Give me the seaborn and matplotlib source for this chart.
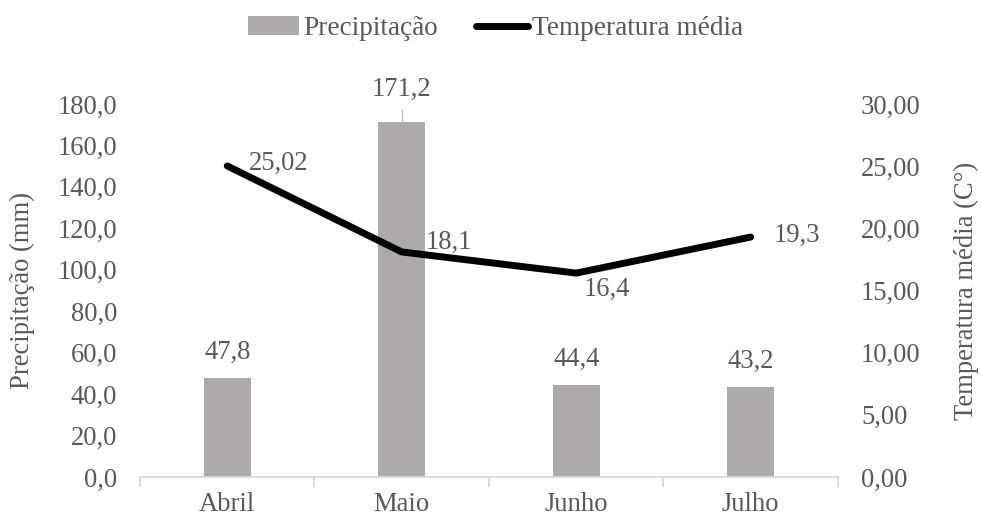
import matplotlib
matplotlib.use("Agg")
import matplotlib.pyplot as plt
from matplotlib.lines import Line2D
from matplotlib.patches import Patch
from matplotlib.ticker import FixedLocator, FuncFormatter
import seaborn as sns
import pandas as pd

months = ["Abril", "Maio", "Junho", "Julho"]
precip = [47.8, 171.2, 44.4, 43.2]
temps = [25.02, 18.1, 16.4, 19.3]
temp_labels = ["25,02", "18,1", "16,4", "19,3"]

sns.set_theme(style="white")
plt.rcParams["font.family"] = ["Liberation Serif", "DejaVu Serif"]

TEXT = "#595959"
BAR = "#AEAAAA"
AXIS = "#D9D9D9"
FS = 19.2

df = pd.DataFrame({"mes": months, "prec": precip, "temp": temps})

fig = plt.figure(figsize=(9.81, 5.17), dpi=100)
ax = fig.add_axes([0.1427, 0.0774, 0.7115, 0.7214])

sns.barplot(data=df, x="mes", y="prec", color=BAR, width=0.27,
            saturation=1, ax=ax, edgecolor="none")
ax.set_xlim(-0.5, 3.5)
ax.set_ylim(0, 180)
ax.set_yticks(range(0, 181, 20))
ax.yaxis.set_major_formatter(FuncFormatter(lambda v, p: f"{v:.1f}".replace(".", ",")))
ax.set_xlabel("")
ax.set_ylabel("Precipitação (mm)", fontsize=FS, color=TEXT, va="center")
ax.yaxis.set_label_coords(-0.168, 0.5)

for s in ["top", "left", "right"]:
    ax.spines[s].set_visible(False)
ax.spines["bottom"].set_color(AXIS)
ax.spines["bottom"].set_linewidth(1.3)

ax.tick_params(axis="y", length=0, labelsize=FS, labelcolor=TEXT, pad=16.5)
ax.tick_params(axis="x", which="major", length=0, labelsize=FS, labelcolor=TEXT, pad=11)
ax.xaxis.set_minor_locator(FixedLocator([-0.5, 0.5, 1.5, 2.5, 3.5]))
ax.tick_params(axis="x", which="minor", length=7, width=1.3, color=AXIS, bottom=True)

# bar value labels
for i, v in enumerate(precip):
    txt = f"{v:.1f}".replace(".", ",")
    if v > 150:
        ax.plot([i, i], [v, v + 6], color="#BFBFBF", lw=1)
        ax.text(i, v + 10, txt, ha="center", va="bottom", fontsize=FS, color=TEXT)
    else:
        ax.text(i, v + 6.5, txt, ha="center", va="bottom", fontsize=FS, color=TEXT)

ax2 = ax.twinx()
sns.lineplot(data=df, x="mes", y="temp", color="black", lw=5, ax=ax2,
             sort=False, solid_capstyle="round", solid_joinstyle="round")
ax2.set_ylim(0, 30)
ax2.set_yticks(range(0, 31, 5))
ax2.yaxis.set_major_formatter(FuncFormatter(lambda v, p: f"{v:.2f}".replace(".", ",")))
ax2.set_ylabel("Temperatura média (C°)", fontsize=FS, color=TEXT, va="center")
ax2.yaxis.set_label_coords(1.184, 0.5)
ax2.tick_params(axis="y", length=0, labelsize=FS, labelcolor=TEXT, pad=16.5)
ax2.set_xlabel("")
for s in ["top", "left", "right", "bottom"]:
    ax2.spines[s].set_visible(False)

# line value labels: (x offset, y offset) in data units
label_offsets = [(0.125, 0.2), (0.14, 0.8), (0.04, -1.3), (0.13, 0.15)]
for i, (t, lab) in enumerate(zip(temps, temp_labels)):
    dx, dy = label_offsets[i]
    ax2.text(i + dx, t + dy, lab, ha="left", va="center", fontsize=FS, color=TEXT)

handles = [Patch(facecolor=BAR, edgecolor="none"),
           Line2D([0], [0], color="black", lw=5, solid_capstyle="round")]
fig.legend(handles, ["Precipitação", "Temperatura média"], loc="center",
           bbox_to_anchor=(0.505, 0.944), ncol=2, frameon=False, fontsize=19.6,
           labelcolor=TEXT, handlelength=1.9, handletextpad=0.15, columnspacing=1.4)

fig.savefig("out.png", dpi=100)
